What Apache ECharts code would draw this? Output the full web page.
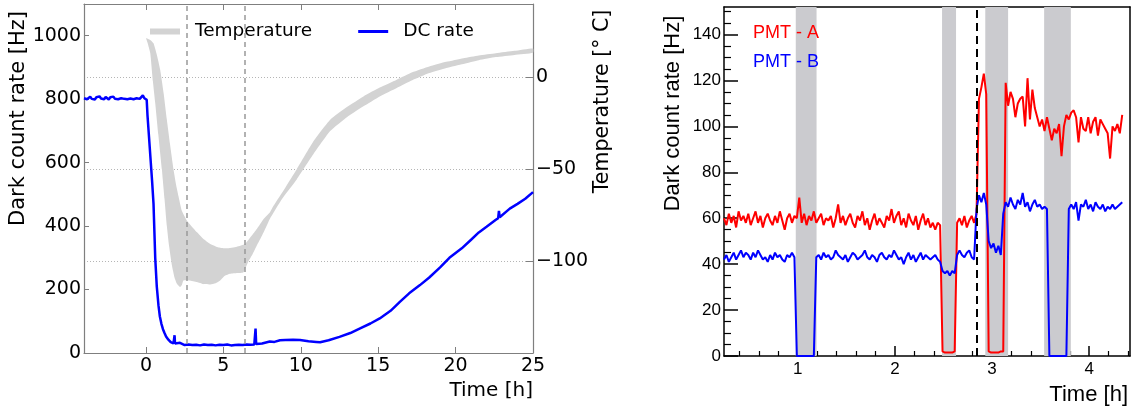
<!DOCTYPE html>
<html>
<head>
<meta charset="utf-8">
<script src="https://cdn.jsdelivr.net/npm/echarts@6/dist/echarts.min.js"></script>
<style>html,body{margin:0;padding:0;background:#fff}#c{width:1135px;height:412px}</style>
</head>
<body>
<div id="c"></div>
<script>
// ---------- Left panel: DC rate vs time ----------
const dcTime = [-4.0,-3.9,-3.8,-3.7,-3.6,-3.5,-3.4,-3.3,-3.2,-3.1,-3.0,-2.9,-2.8,-2.7,-2.6,-2.5,-2.4,-2.3,-2.2,-2.1,
  -2.0,-1.9,-1.8,-1.7,-1.6,-1.5,-1.4,-1.3,-1.2,-1.1,-1.0,-0.9,-0.8,-0.7,-0.6,-0.5,-0.4,-0.3,-0.2,-0.1,
  0.0,0.05,0.1,0.2,0.3,0.4,0.49,0.6,0.7,0.81,0.9,1.0,1.1,1.2,1.3,1.45,1.6,1.78,1.82,1.85,1.88,2.0,2.2,2.3,
  2.5,2.75,3.0,3.25,3.5,3.75,4.0,4.25,4.5,4.75,5.0,5.25,5.5,5.75,6.0,6.25,6.5,6.75,7.0,7.05,7.08,7.12,
  7.5,7.75,8.0,8.3,8.66,9.0,9.5,9.95,10.5,11.0,11.25,11.8,12.5,13.2,13.8,14.5,15.1,15.8,16.4,17.0,17.7,
  18.3,19.0,19.6,20.4,21.0,21.5,22.0,22.6,22.75,22.8,22.85,23.5,24.0,24.5,25.0];
const dcRate = [803,806,800,804,808,801,805,799,806,803,809,802,805,800,807,803,799,806,802,808,
  801,804,800,806,803,809,801,805,800,806,802,807,800,805,803,808,801,805,812,803,
  806,798,750,680,610,540,470,300,210,150,115,92,75,63,52,42,34,30,31,56,30,27,32,26,
  25,27,25,26,24,27,25,26,24,26,25,27,24,25,26,25,27,26,27,27,77,28,
  30,33,36,35,40,41,42,41,37,35,34,40,51,63,77,93,109,133,161,188,214,
  238,270,300,330,357,380,398,420,425,448,428,455,470,486,507];

// Temperature band (upper / lower edge), degrees C
const tempUpperTime = [0,0.15,0.3,0.49,0.7,0.92,1.15,1.35,1.55,1.78,1.95,2.1,2.32,2.65,3.0,3.3,3.7,4.15,4.7,5.2,5.87,6.4,6.8,7.16,7.6,8.0,8.23,9.0,9.74,10.8,11.9,13.0,14.05,15.1,16.2,17.2,18.3,19.4,20.5,21.5,22.6,23.8,25];
const tempUpper = [21.3,21.0,20.3,18.6,12.5,4.2,-9,-22.9,-36,-50,-58.5,-64.5,-72.6,-78,-81.5,-84.3,-87.8,-90.6,-92.5,-93,-92.1,-90.6,-86.5,-82.5,-77,-73.5,-70,-60,-50,-35,-23,-16,-10.3,-5.5,-1.2,2.8,6.0,8.5,10.5,12,13.2,14.5,15.8];
const tempLowerTime = [0,0.1,0.28,0.45,0.6,0.8,1.03,1.2,1.35,1.5,1.68,1.85,2.0,2.2,2.32,2.42,2.8,3.3,3.7,4.15,4.5,4.8,5.1,5.44,5.9,6.3,6.6,6.9,7.16,7.5,7.8,8.0,8.8,9.75,10.8,11.9,13.0,14.05,15.1,16.2,17.2,18.3,19.4,20.5,21.5,22.6,23.8,25];
const tempLower = [21.3,19,13.2,-2,-13.9,-31,-50,-66,-80.7,-92,-102.4,-109,-112.3,-114.1,-113,-110.5,-110.5,-111.4,-112.5,-112.7,-112,-110.5,-108,-106.9,-106.5,-106,-100.5,-96,-91.5,-86,-80.7,-77,-66,-55.4,-42,-29.2,-21.5,-15.7,-10.3,-5.7,-1.5,2.4,5.2,7.4,9.4,11.1,12.3,13.5];

const leftDashedTimes = [2.66, 6.41];
const leftXTicks = [0, 5, 10, 15, 20, 25];

// ---------- Right panel: PMT dark count rate ----------
const pmtStart = 0.24, pmtStep = 0.025;  // sampling grid of the recorded rates (h)
const pmtA = [
  60,57,62,58,61,56,63,59,61,58, 62,57,60,63,58,61,56,60,62,59, 57,61,58,63,59,55,60,62,58,61,
  60,69,58,62,57,61,59,63,58,60, 62,57,60,59,61,56,60,66,58,61, 57,60,62,58,56,61,59,63,57,60,
  55,59,62,57,60,58,56,61,59,64, 58,61,63,57,60,56,62,59,57,61, 55,59,62,57,60,56,58,55,58,57,
  2,1.5,1.5,1.5,1.5,2,
  58,60,57,61,56,59,61,58,
  62,112,117,123,114,
  2,1.5,1.5,1.5,1.5,2,2,
  119,109,115,112,104,110,112,113,100,121, 103,116,108,104,100,103,98,104,99,94,
  99,97,101,87,100,105,103,106,107,104, 93,104,99,98,104,97,102,104,96,103,
  101,99,97,86,100,98,101,97,105];
const pmtB = [
  42,44,41,43,45,42,44,46,43,45, 44,42,45,43,46,44,42,43,41,44, 42,45,43,44,42,41,44,43,45,43,
  0,0,0,0,0,0,0,0,
  43,44,42,45,43,44,42,43,46,44, 43,42,44,41,43,45,44,42,43,44, 46,43,42,44,43,41,44,45,43,42,
  44,43,46,44,42,43,40,43,45,42, 44,41,43,45,42,44,43,42,43,44, 42,41,
  37,36,37,35,37,36,
  44,46,44,43,45,46,43,42,
  64,70,67,71,66,50,47,49,45,48,44,62,
  67,65,69,66,64,68,66,71,65,67,63,66,68,65,66,64,65,64,
  0,0,0,0,0,0,0,0,
  64,66,64,67,59,66,65,68,64,66,63,67,65,64,66,63,65,64,66,64,65,66,67];
const pmtBands = [[0.979, 1.193], [2.485, 2.629], [2.93, 3.165], [3.536, 3.811]];
const pmtDashedTime = 2.838;
const pmtXMajor = [1, 2, 3, 4];
const pmtXMinor = [0.4,0.6,0.8,1.2,1.4,1.6,1.8,2.2,2.4,2.6,2.8,3.2,3.4,3.6,3.8,4.2,4.4];
const pmtYMajor = [0, 20, 40, 60, 80, 100, 120, 140];
const pmtYMinor = [5,10,15,25,30,35,45,50,55,65,70,75,85,90,95,105,110,115,125,130,135,145,150];

// ---------- build ----------
const pair = (xs, ys) => xs.map((x, i) => [x, ys[i]]);
const pmtPair = ys => ys.map((v, i) => [+(pmtStart + i * pmtStep).toFixed(3), v]);
const plain = v => String(v).replace('-', '\u2212');
const DV = 'DejaVu Sans', LS = 'Liberation Sans';
const gray = '#7f7f7f';
const noZero = c => ({onZero: false, lineStyle: c});

const chart = echarts.init(document.getElementById('c'));
chart.setOption({
  animation: false,
  backgroundColor: '#fff',
  grid: [
    {left: 84, top: 4, width: 449, height: 349, outerBoundsMode: 'none'},
    {left: 724, top: 7, width: 406, height: 349, outerBoundsMode: 'none'}
  ],
  legend: [
    {
      left: 145, top: 17, itemWidth: 30, itemHeight: 14, itemGap: 46, selectedMode: false,
      textStyle: {fontFamily: DV, fontSize: 18.5, color: '#000', padding: [0, 0, 0, 10]},
      data: [
        {name: 'Temperature', icon: 'path://M0,0H30V6H0Z', itemStyle: {color: '#d3d3d3'}},
        {name: 'DC rate', icon: 'path://M0,0H30V3H0Z', itemStyle: {color: '#0000ff'}}
      ]
    },
    {
      left: 742, top: 19, orient: 'vertical', itemWidth: 1, itemHeight: 14, itemGap: 11, selectedMode: false,
      textStyle: {fontFamily: LS, fontSize: 18},
      data: [
        {name: 'PMT - A', icon: 'none', textStyle: {color: '#ff0000'}},
        {name: 'PMT - B', icon: 'none', textStyle: {color: '#0000ff'}}
      ]
    }
  ],
  xAxis: [
    { // 0: left bottom
      gridIndex: 0, type: 'value', position: 'bottom', min: -4, max: 25,
      axisLine: noZero({color: gray, width: 1.2}),
      axisTick: {inside: true, length: 6, customValues: leftXTicks, lineStyle: {color: gray}},
      axisLabel: {customValues: leftXTicks, fontFamily: DV, fontSize: 19, color: '#000', margin: 4, formatter: plain},
      splitLine: {show: false},
      name: 'Time [h]', nameLocation: 'end', nameGap: 0,
      nameTextStyle: {fontFamily: DV, fontSize: 20, color: '#000', align: 'right', verticalAlign: 'top', padding: [28, 0, 0, 0]}
    },
    { // 1: left top border
      gridIndex: 0, type: 'value', position: 'top', min: -4, max: 25,
      axisLine: noZero({color: gray, width: 1.2}),
      axisTick: {inside: true, length: 6, customValues: leftXTicks, lineStyle: {color: gray}},
      axisLabel: {show: false}, splitLine: {show: false}
    },
    { // 2: right bottom, major
      gridIndex: 1, type: 'value', position: 'bottom', min: 0.24, max: 4.42,
      axisLine: noZero({color: '#000', width: 1.5}),
      axisTick: {inside: true, length: 10, customValues: pmtXMajor, lineStyle: {color: '#000', width: 1.5}},
      axisLabel: {customValues: pmtXMajor, fontFamily: LS, fontSize: 17, color: '#000', margin: 5, formatter: plain},
      splitLine: {show: false},
      name: 'Time [h]', nameLocation: 'end', nameGap: -2,
      nameTextStyle: {fontFamily: LS, fontSize: 22, color: '#000', align: 'right', verticalAlign: 'top', padding: [28, 0, 0, 0]}
    },
    { // 3: right bottom, minor ticks
      gridIndex: 1, type: 'value', position: 'bottom', min: 0.24, max: 4.42,
      axisLine: {show: false, onZero: false},
      axisTick: {inside: true, length: 5, customValues: pmtXMinor, lineStyle: {color: '#000', width: 1.2}},
      axisLabel: {show: false}, splitLine: {show: false}
    },
    { // 4: right top border
      gridIndex: 1, type: 'value', position: 'top', min: 0.24, max: 4.42,
      axisLine: noZero({color: '#000', width: 1.5}),
      axisTick: {show: false}, axisLabel: {show: false}, splitLine: {show: false}
    }
  ],
  yAxis: [
    { // 0: left DC rate
      gridIndex: 0, type: 'value', position: 'left', min: 0, max: 1100, interval: 200,
      axisLine: Object.assign({show: true}, noZero({color: gray, width: 1.2})),
      axisTick: {show: true, inside: true, length: 5, lineStyle: {color: gray}},
      axisLabel: {fontFamily: DV, fontSize: 19, color: '#000', margin: 3, showMaxLabel: false, formatter: plain},
      splitLine: {show: false},
      name: 'Dark count rate [Hz]', nameLocation: 'middle', nameGap: 53,
      nameTextStyle: {fontFamily: DV, fontSize: 21, color: '#000', padding: [0, 0, 0, 120]}
    },
    { // 1: temperature
      gridIndex: 0, type: 'value', position: 'right', min: -150, max: 40, interval: 50,
      axisLine: Object.assign({show: true}, noZero({color: gray, width: 1.2})),
      axisTick: {show: true, inside: true, length: 7, lineStyle: {color: gray}},
      axisLabel: {fontFamily: DV, fontSize: 19, color: '#000', margin: 3, showMinLabel: false, showMaxLabel: false, formatter: plain},
      splitLine: {show: true, lineStyle: {color: '#b5b5b5', type: [1, 2], width: 1}},
      name: 'Temperature [\u00b0 C]', nameLocation: 'middle', nameGap: 57,
      nameTextStyle: {fontFamily: DV, fontSize: 20.5, color: '#000', padding: [0, 0, 0, 154]}
    },
    { // 2: right panel left axis, major
      gridIndex: 1, type: 'value', position: 'left', min: 0, max: 152,
      axisLine: Object.assign({show: true}, noZero({color: '#000', width: 1.5})),
      axisTick: {show: true, inside: true, length: 14, customValues: pmtYMajor, lineStyle: {color: '#000', width: 1.5}},
      axisLabel: {customValues: pmtYMajor, fontFamily: LS, fontSize: 17, color: '#000', margin: 3, formatter: plain},
      splitLine: {show: false},
      name: 'Dark count rate [Hz]', nameLocation: 'middle', nameGap: 40,
      nameTextStyle: {fontFamily: LS, fontSize: 22, color: '#000', padding: [0, 0, 0, 136]}
    },
    { // 3: right panel right border
      gridIndex: 1, type: 'value', position: 'right', min: 0, max: 152,
      axisLine: Object.assign({show: true}, noZero({color: '#000', width: 1.5})),
      axisTick: {show: false}, axisLabel: {show: false}, splitLine: {show: false}
    },
    { // 4: right panel left minor ticks
      gridIndex: 1, type: 'value', position: 'left', min: 0, max: 152,
      axisLine: {show: false, onZero: false},
      axisTick: {show: true, inside: true, length: 7, customValues: pmtYMinor, lineStyle: {color: '#000', width: 1.2}},
      axisLabel: {show: false}, splitLine: {show: false}
    }
  ],
  series: [
    {
      type: 'custom', name: 'Temperature', xAxisIndex: 0, yAxisIndex: 1, z: 1, silent: true,
      itemStyle: {color: '#d3d3d3'},
      data: [[tempUpperTime[0], tempUpper[0]]],
      renderItem: (params, api) => {
        const pts = [];
        for (let i = 0; i < tempUpperTime.length; i++) pts.push(api.coord([tempUpperTime[i], tempUpper[i]]));
        for (let i = tempLowerTime.length - 1; i >= 0; i--) pts.push(api.coord([tempLowerTime[i], tempLower[i]]));
        return {type: 'polygon', shape: {points: pts, smooth: 0.15}, style: {fill: '#d3d3d3'}};
      }
    },
    {
      type: 'line', xAxisIndex: 0, yAxisIndex: 0, data: [], z: 2, silent: true,
      markLine: {
        silent: true, symbol: 'none', label: {show: false}, animation: false,
        lineStyle: {color: '#999', type: [5, 4], width: 1.5},
        data: leftDashedTimes.map(t => ({xAxis: t}))
      }
    },
    {
      type: 'line', name: 'DC rate', xAxisIndex: 0, yAxisIndex: 0, z: 3, showSymbol: false,
      lineStyle: {color: '#0000ff', width: 2.5}, itemStyle: {color: '#0000ff'},
      data: pair(dcTime, dcRate)
    },
    {
      type: 'line', xAxisIndex: 2, yAxisIndex: 2, data: [], z: 1, silent: true,
      markArea: {
        silent: true, itemStyle: {color: '#cbcbcf'},
        data: pmtBands.map(b => [{xAxis: b[0]}, {xAxis: b[1]}])
      },
      markLine: {
        silent: true, symbol: 'none', label: {show: false},
        lineStyle: {color: '#000', type: [8, 5], width: 2},
        data: [{xAxis: pmtDashedTime}]
      }
    },
    {
      type: 'line', name: 'PMT - A', xAxisIndex: 2, yAxisIndex: 2, z: 3, showSymbol: false,
      lineStyle: {color: '#ff0000', width: 2}, itemStyle: {color: '#ff0000'},
      data: pmtPair(pmtA)
    },
    {
      type: 'line', name: 'PMT - B', xAxisIndex: 2, yAxisIndex: 2, z: 3, showSymbol: false,
      lineStyle: {color: '#0000ff', width: 2}, itemStyle: {color: '#0000ff'},
      data: pmtPair(pmtB)
    }
  ]
});
</script>
</body>
</html>
